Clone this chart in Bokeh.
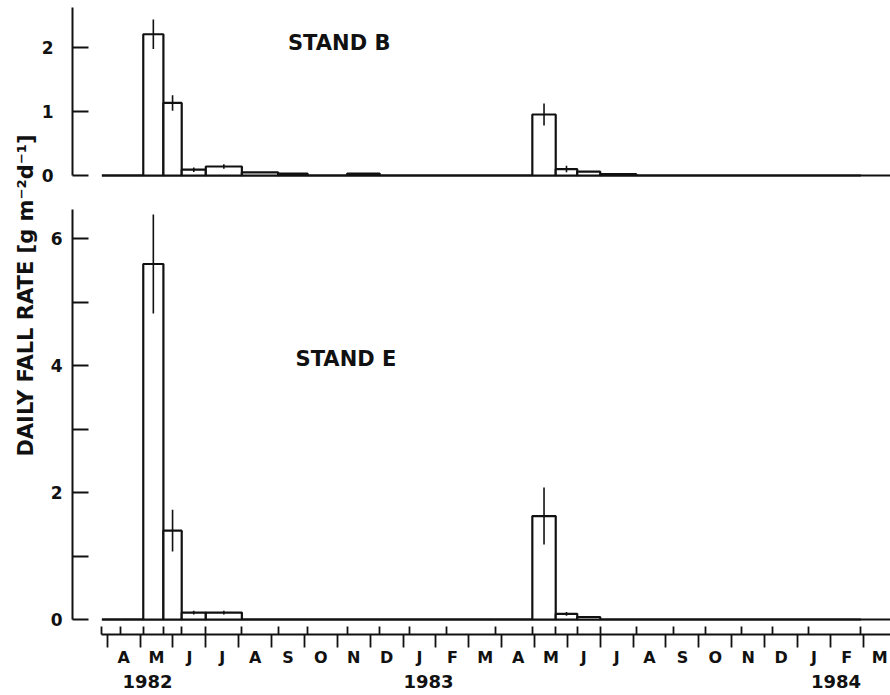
import math
import calendar
from bokeh.plotting import figure
from bokeh.layouts import row, column
from bokeh.models import Range1d, LinearAxis, FixedTicker
from bokeh.core.properties import value
from bokeh.embed import file_html
from bokeh.resources import INLINE

# ---------------- data ----------------
sample_dates = ["1982-03-27", "1982-04-13", "1982-05-04", "1982-05-23", "1982-06-09",
                "1982-07-01", "1982-08-04", "1982-09-07", "1982-10-04", "1982-11-10",
                "1982-12-10", "1983-01-07", "1983-02-10", "1983-03-26", "1983-04-29",
                "1983-05-21", "1983-06-10", "1983-07-01", "1983-08-04", "1983-09-08",
                "1983-10-07", "1983-11-10", "1983-12-08", "1984-01-11", "1984-02-28"]
# daily fall rate for each interval between consecutive sampling dates
stand_b = [0, 0, 2.20, 1.13, 0.09, 0.14, 0.05, 0.03, 0, 0.03, 0, 0, 0,
           0, 0.95, 0.10, 0.06, 0.02, 0, 0, 0, 0, 0, 0]
stand_b_err = [0, 0, 0.23, 0.12, 0.035, 0.035, 0, 0, 0, 0, 0, 0, 0,
               0, 0.17, 0.05, 0, 0, 0, 0, 0, 0, 0, 0]
stand_e = [0, 0, 5.60, 1.40, 0.11, 0.11, 0, 0, 0, 0, 0, 0, 0,
           0, 1.63, 0.09, 0.04, 0, 0, 0, 0, 0, 0, 0]
stand_e_err = [0, 0, 0.78, 0.33, 0.03, 0.03, 0, 0, 0, 0, 0, 0, 0,
               0, 0.45, 0.03, 0, 0, 0, 0, 0, 0, 0, 0]
month_letters = ["A", "M", "J", "J", "A", "S", "O", "N", "D", "J", "F", "M",
                 "A", "M", "J", "J", "A", "S", "O", "N", "D", "J", "F", "M"]
first_labelled_month = "1982-04-01"
years = ["1982", "1983", "1984"]
year_label_dates = ["1982-05-08", "1983-01-25", "1984-02-06"]
b_ticks = [0, 1, 2]
e_ticks = [0, 1, 2, 3, 4, 5, 6]
e_tick_labels = ["0", "", "2", "", "4", "", "6"]
y_title = "DAILY FALL RATE [g m\u207b\u00b2d\u207b\u00b9]"

# ---------------- helpers ----------------
def mpos(s):
    """fractional month index (months since Jan 1982, equal-width months)"""
    y, m, d = map(int, s.split("-"))
    nd = calendar.monthrange(y, m)[1]
    return (y - 1982) * 12 + (m - 1) + (d - 1) / nd

xs = [mpos(s) for s in sample_dates]
lefts = xs[:-1]
rights = xs[1:]
mids = [(a + b) / 2 for a, b in zip(lefts, rights)]
m0 = int(round(mpos(first_labelled_month)))
month_bounds = [m0 + i for i in range(len(month_letters))]
month_mids = [m0 + i + 0.5 for i in range(len(month_letters))]
year_x = [mpos(s) for s in year_label_dates]

X0, X1 = 1.944, 26.83
FONT = "DejaVu Sans"
INK = "#111111"

def style_y_axis(ax, standoff):
    ax.axis_line_width = 2
    ax.axis_line_color = INK
    ax.major_tick_in = 16
    ax.major_tick_out = 0
    ax.major_tick_line_width = 2
    ax.major_tick_line_color = INK
    ax.minor_tick_line_color = None
    ax.major_label_standoff = standoff
    ax.major_label_text_font = FONT
    ax.major_label_text_font_style = "bold"
    ax.major_label_text_font_size = "17px"
    ax.major_label_text_color = INK

def label_axis(ticks, labels, standoff, size):
    ax = LinearAxis(ticker=FixedTicker(ticks=ticks),
                    major_label_overrides={t: s for t, s in zip(ticks, labels)})
    ax.axis_line_color = None
    ax.major_tick_in = 0
    ax.major_tick_out = 0
    ax.major_tick_line_color = None
    ax.minor_tick_line_color = None
    ax.major_label_standoff = standoff
    ax.major_label_text_font = FONT
    ax.major_label_text_font_style = "bold"
    ax.major_label_text_font_size = size
    ax.major_label_text_color = INK
    return ax

def err_segments(p, vals, errs):
    ex = [m for m, e in zip(mids, errs) if e > 0]
    lo = [v - e for v, e in zip(vals, errs) if e > 0]
    hi = [v + e for v, e in zip(vals, errs) if e > 0]
    p.segment(x0=ex, y0=lo, x1=ex, y1=hi, line_color=INK, line_width=1.6)

def draw_bars(p, vals, errs):
    p.segment(x0=[xs[0]], y0=[0], x1=[X1], y1=[0], line_color=INK, line_width=2.2)
    p.quad(left=lefts, right=rights, bottom=[0] * len(vals), top=vals,
           fill_color="white", line_color=INK, line_width=2.2)
    err_segments(p, vals, errs)

def bare(p):
    p.outline_line_color = None
    p.xgrid.visible = False
    p.ygrid.visible = False

# ---------------- y-title column ----------------
lab = figure(width=38, height=695, x_range=Range1d(0, 38), y_range=Range1d(695, 0),
             output_backend="svg", toolbar_location=None,
             x_axis_location=None, y_axis_location=None,
             min_border_left=0, min_border_right=0, min_border_top=0, min_border_bottom=0)
bare(lab)
lab.text(x=[25.5], y=[295], text=[y_title], angle=math.pi / 2,
         text_align="center", text_baseline="middle", text_color=INK,
         text_font=value(FONT), text_font_style="bold", text_font_size="21px")

# ---------------- top panel: stand B ----------------
top = figure(width=852, height=185, x_range=Range1d(X0, X1), y_range=Range1d(-0.156, 2.726),
             output_backend="svg", toolbar_location=None,
             x_axis_location=None, y_axis_location=None,
             min_border_left=34, min_border_right=0, min_border_top=0, min_border_bottom=0)
bare(top)
ya = LinearAxis(ticker=FixedTicker(ticks=b_ticks), bounds=(0, 2.62))
style_y_axis(ya, 19)
top.add_layout(ya, "left")
draw_bars(top, stand_b, stand_b_err)
top.text(x=[8.5], y=[2.06], text=["STAND B"], text_align="left", text_baseline="middle",
         text_color=INK, text_font=value(FONT), text_font_style="bold", text_font_size="21px")

# ---------------- bottom panel: stand E ----------------
bot = figure(width=852, height=510, x_range=top.x_range, y_range=Range1d(-0.236, 6.60),
             output_backend="svg", toolbar_location=None,
             x_axis_location=None, y_axis_location=None,
             min_border_left=34, min_border_right=0, min_border_top=15, min_border_bottom=61)
bare(bot)
yb = LinearAxis(ticker=FixedTicker(ticks=e_ticks), bounds=(0, 6.46),
                major_label_overrides={t: s for t, s in zip(e_ticks, e_tick_labels)})
style_y_axis(yb, 10)
bot.add_layout(yb, "left")

# sampling-date ticks (up) and month boundaries (down)
ax1 = LinearAxis(ticker=FixedTicker(ticks=xs, minor_ticks=month_bounds), bounds=(xs[0] - 1e-6, X1))
ax1.axis_line_width = 2
ax1.axis_line_color = INK
ax1.major_tick_in = 8
ax1.major_tick_out = 0
ax1.major_tick_line_width = 1.8
ax1.major_tick_line_color = INK
ax1.minor_tick_in = 0
ax1.minor_tick_out = 13
ax1.minor_tick_line_width = 1.8
ax1.minor_tick_line_color = INK
ax1.major_label_text_font_size = "0px"
ax1.major_label_standoff = 0
ax1.major_label_overrides = {t: "" for t in xs}
bot.add_layout(ax1, "below")

bot.add_layout(label_axis(month_mids, month_letters, 0, "16px"), "below")
bot.add_layout(label_axis(year_x, years, 5, "18px"), "below")

draw_bars(bot, stand_e, stand_e_err)
bot.text(x=[8.73], y=[4.11], text=["STAND E"], text_align="left", text_baseline="middle",
         text_color=INK, text_font=value(FONT), text_font_style="bold", text_font_size="21px")

layout = row(lab, column(top, bot))
open("out.html", "w").write(file_html(layout, INLINE))
